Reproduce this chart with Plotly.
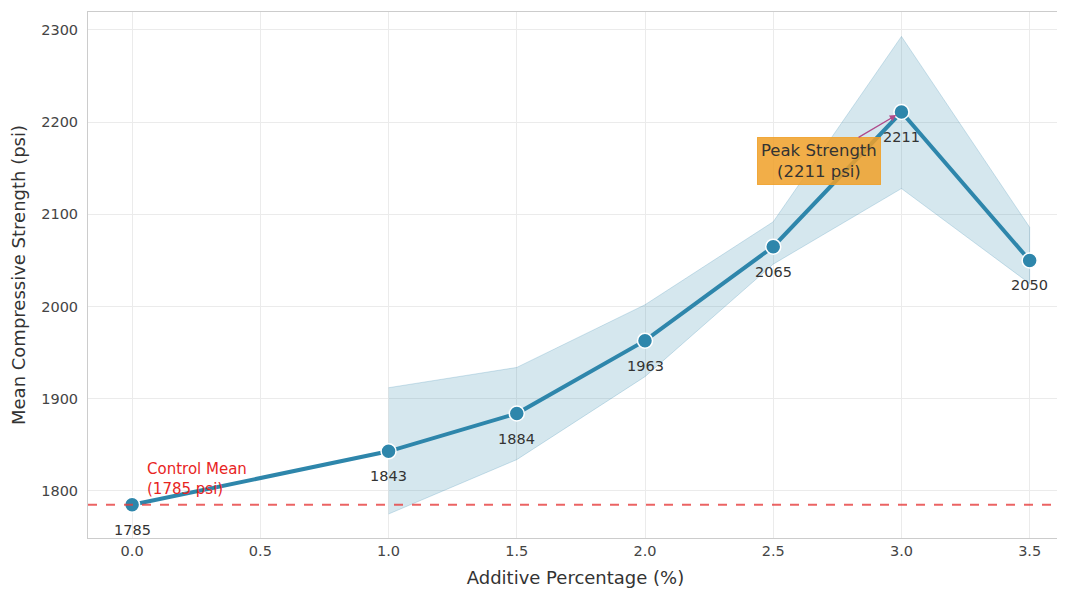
import plotly.graph_objects as go

additive_pct = [0.0, 1.0, 1.5, 2.0, 2.5, 3.0, 3.5]
mean_strength = [1785, 1843, 1884, 1963, 2065, 2211, 2050]
band_x = [1.0, 1.5, 2.0, 2.5, 3.0, 3.5]
band_upper = [1912, 1934, 2002, 2092, 2293, 2086]
band_lower = [1775, 1834, 1924, 2046, 2128, 2025]
control_mean = 1785
x_ticks = [0.0, 0.5, 1.0, 1.5, 2.0, 2.5, 3.0, 3.5]
y_ticks = [1800, 1900, 2000, 2100, 2200, 2300]

LINE = "#2e86ab"
FONT = "DejaVu Sans"

fig = go.Figure()

fig.add_trace(go.Scatter(
    x=band_x + band_x[::-1],
    y=band_upper + band_lower[::-1],
    mode="lines",
    fill="toself",
    fillcolor="rgba(46,134,171,0.2)",
    line=dict(color="rgba(46,134,171,0.22)", width=1),
    hoverinfo="skip", showlegend=False,
))

fig.add_hline(y=control_mean, line=dict(color="rgba(230,60,60,0.8)", width=2, dash="dash"))

fig.add_trace(go.Scatter(
    x=additive_pct, y=mean_strength, mode="lines+markers",
    line=dict(color=LINE, width=4),
    marker=dict(size=15, color=LINE, line=dict(color="white", width=1.5)),
    showlegend=False,
))

for xv, yv in zip(additive_pct, mean_strength):
    fig.add_annotation(x=xv, y=yv, text=str(yv), showarrow=False,
                       yshift=-25, font=dict(family=FONT, size=14.5, color="#333333"))

fig.add_annotation(x=0.05, y=1790, text="Control Mean<br>(1785 psi)", showarrow=False,
                   xanchor="left", yanchor="bottom", align="left",
                   font=dict(family=FONT, size=15, color="#e8251f"))

fig.add_annotation(x=3.0, y=2211, ax=2.678, ay=2158, axref="x", ayref="y",
                   text="Peak Strength<br>(2211 psi)", showarrow=True,
                   arrowhead=2, arrowsize=1, arrowwidth=1.3, arrowcolor="#b04a8a",
                   bgcolor="rgba(240,160,40,0.85)", bordercolor="rgba(240,160,40,0.85)",
                   borderpad=3, standoff=6,
                   font=dict(family=FONT, size=16.5, color="#333333"))

fig.update_layout(
    width=1057, height=583,
    margin=dict(l=80, r=2, t=4, b=53),
    paper_bgcolor="white", plot_bgcolor="white",
    font=dict(family=FONT, color="#444444"),
)
fig.update_xaxes(
    range=[-0.172, 3.63], tickvals=x_ticks, ticktext=[f"{v:.1f}" for v in x_ticks],
    showgrid=True, gridcolor="#ebebeb", zeroline=False,
    showline=True, linecolor="#cccccc", mirror=True, ticks="",
    tickfont=dict(size=14.5, color="#444444"),
    title=dict(text="Additive Percentage (%)", font=dict(size=18, color="#333333"), standoff=12),
)
fig.update_yaxes(
    range=[1749, 2319.5], tickvals=y_ticks,
    showgrid=True, gridcolor="#ebebeb", zeroline=False,
    showline=True, linecolor="#cccccc", mirror=True, ticks="",
    ticklabelstandoff=6,
    tickfont=dict(size=14.5, color="#444444"),
    title=dict(text="Mean Compressive Strength (psi)", font=dict(size=18, color="#333333"), standoff=10),
)

fig.write_html("out.html")
